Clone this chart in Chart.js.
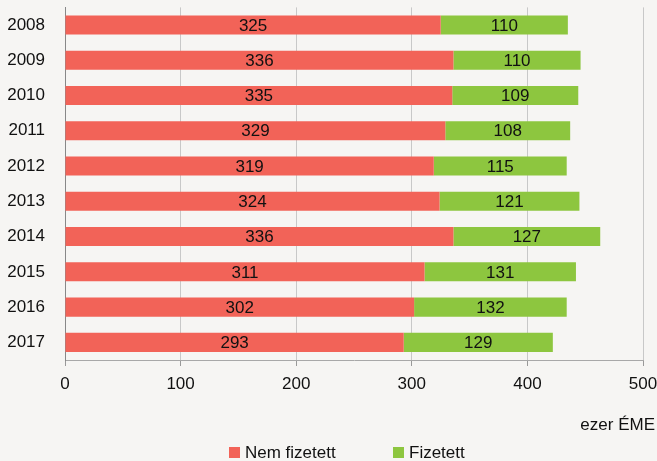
<!DOCTYPE html>
<html><head><meta charset="utf-8">
<script src="https://cdn.jsdelivr.net/npm/chart.js@4"></script>
<style>
html,body{margin:0;padding:0;background:#f6f5f3;}
#wrap{position:relative;width:657px;height:461px;font-family:"Liberation Sans",Arial,sans-serif;color:#111;}
canvas{position:absolute;left:0;top:0;}
#unit{position:absolute;right:2px;top:415px;font-size:17px;}
.leg{position:absolute;top:443px;font-size:17px;line-height:20px;}
.leg span.box{display:inline-block;width:11px;height:11px;margin-right:5px;vertical-align:0px;}
</style></head>
<body><div id="wrap"><canvas id="c" width="657" height="461"></canvas>
<div id="unit">ezer ÉME</div>
<div class="leg" style="left:229px"><span class="box" style="background:#f26358"></span>Nem fizetett</div>
<div class="leg" style="left:393px"><span class="box" style="background:#8dc63f"></span>Fizetett</div>
</div>
<script>
const years = ['2008','2009','2010','2011','2012','2013','2014','2015','2016','2017'];
const nemFizetett = [325,336,335,329,319,324,336,311,302,293];
const fizetett = [110,110,109,108,115,121,127,131,132,129];
const xTicks = [0,100,200,300,400,500];
const FONT = '"Liberation Sans",Arial,sans-serif';

const labelPlugin = {
  id:'segLabels',
  afterDatasetsDraw(chart){
    const ctx = chart.ctx;
    ctx.save();
    ctx.font = '17px ' + FONT;
    ctx.fillStyle = '#111';
    ctx.textAlign = 'center';
    ctx.textBaseline = 'middle';
    chart.data.datasets.forEach((ds,i)=>{
      chart.getDatasetMeta(i).data.forEach((bar,j)=>{
        const cx = (bar.x + bar.base)/2;
        ctx.fillText(String(ds.data[j]), cx, bar.y+1);
      });
    });
    ctx.restore();
  }
};

new Chart(document.getElementById('c'),{
  type:'bar',
  data:{labels:years,datasets:[
    {label:'Nem fizetett',data:nemFizetett,backgroundColor:'#f26358',borderWidth:0},
    {label:'Fizetett',data:fizetett,backgroundColor:'#8dc63f',borderWidth:0}
  ]},
  options:{
    indexAxis:'y',responsive:false,animation:false,devicePixelRatio:1,
    layout:{padding:{left:0,top:7.4,right:14,bottom:58.6}},
    categoryPercentage:0.54,barPercentage:1,
    plugins:{legend:{display:false},tooltip:{enabled:false}},
    scales:{
      x:{stacked:true,min:0,max:500,
        afterBuildTicks(s){s.ticks = xTicks.map(v=>({value:v}));},
        afterFit(s){s.paddingLeft=0;s.paddingRight=0;},
        grid:{color:'#c8c8c8',lineWidth:1,tickLength:6,drawTicks:true,tickColor:'#999'},
        border:{display:true,color:'#a8a8a8'},
        ticks:{font:{family:FONT,size:17},color:'#111',padding:8,maxRotation:0}
      },
      y:{stacked:true,
        afterFit(s){s.width=65;s.paddingTop=0;s.paddingBottom=0;},
        grid:{display:false,drawTicks:false},
        border:{display:true,color:'#888'},
        ticks:{font:{family:FONT,size:17},color:'#111',padding:20}
      }
    }
  },
  plugins:[labelPlugin]
});
</script></body></html>
